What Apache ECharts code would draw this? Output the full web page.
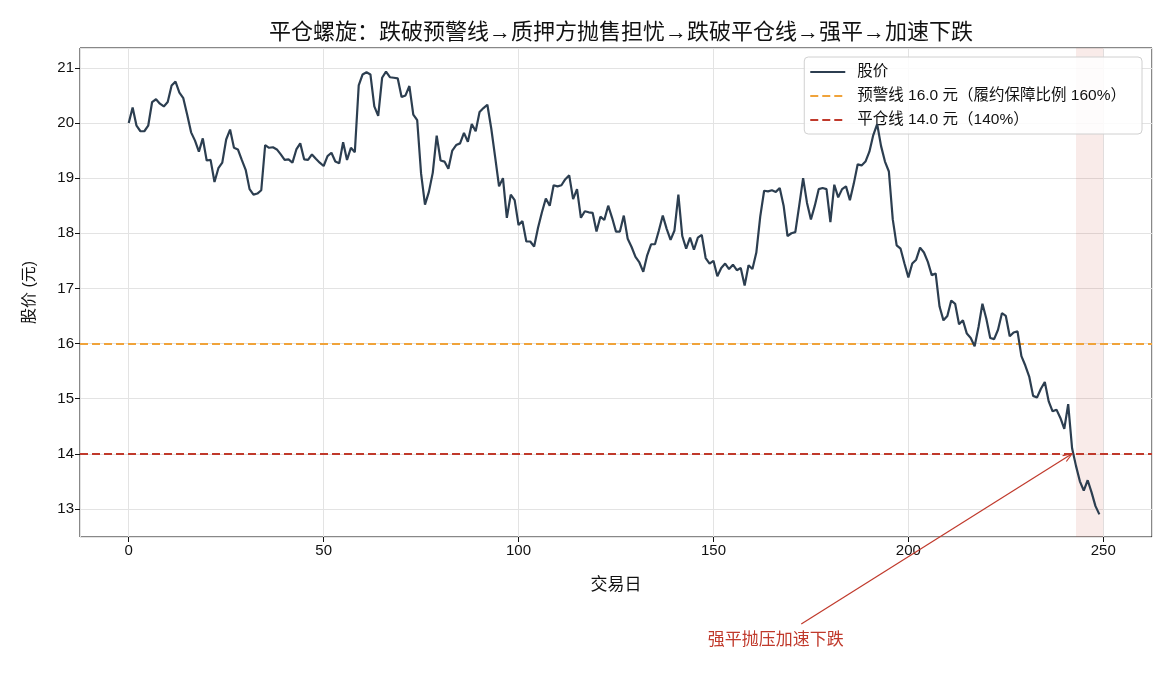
<!DOCTYPE html>
<html lang="zh-CN">
<head>
<meta charset="UTF-8">
<title>平仓螺旋</title>
<script src="https://cdn.jsdelivr.net/npm/echarts@6/dist/echarts.min.js"></script>
<style>
  html, body { margin: 0; padding: 0; background: #fff; }
  #chart { width: 1170px; height: 676px; }
</style>
</head>
<body>
<div id="chart"></div>
<script>
  // daily close, day index = position in array
  const PRICES = [
    20.0, 20.28, 19.95, 19.85, 19.85, 19.95, 20.38, 20.43, 20.35, 20.3,
    20.38, 20.68, 20.75, 20.55, 20.45, 20.15, 19.83, 19.68, 19.48, 19.72,
    19.32, 19.33, 18.93, 19.18, 19.28, 19.7, 19.88, 19.55, 19.52, 19.33,
    19.15, 18.8, 18.7, 18.72, 18.78, 19.6, 19.55, 19.56, 19.52, 19.43,
    19.33, 19.34, 19.28, 19.52, 19.63, 19.34, 19.33, 19.43, 19.35, 19.28,
    19.22, 19.4, 19.46, 19.3, 19.27, 19.65, 19.33, 19.55, 19.47, 20.68,
    20.88, 20.92, 20.88, 20.3, 20.13, 20.82, 20.93, 20.83, 20.82, 20.81,
    20.47, 20.5, 20.67, 20.15, 20.05, 19.08, 18.52, 18.75, 19.1, 19.77,
    19.32, 19.3, 19.17, 19.5, 19.6, 19.63, 19.82, 19.66, 19.98, 19.85,
    20.2, 20.27, 20.33, 19.9, 19.38, 18.85, 19.0, 18.28, 18.7, 18.6,
    18.15, 18.22, 17.85, 17.85, 17.76, 18.1, 18.38, 18.63, 18.5, 18.87,
    18.85, 18.87, 18.98, 19.05, 18.62, 18.8, 18.28, 18.4, 18.38, 18.37,
    18.03, 18.3, 18.24, 18.5, 18.28, 18.03, 18.03, 18.32, 17.9, 17.75,
    17.57, 17.47, 17.3, 17.6, 17.8, 17.8, 18.05, 18.32, 18.08, 17.88,
    18.05, 18.7, 17.95, 17.72, 17.92, 17.7, 17.92, 17.97, 17.55, 17.45,
    17.5, 17.22, 17.37, 17.45, 17.35, 17.43, 17.33, 17.37, 17.05, 17.42,
    17.35, 17.65, 18.3, 18.77, 18.76, 18.78, 18.75, 18.82, 18.5, 17.95,
    18.0, 18.02, 18.5, 19.0, 18.55, 18.25, 18.5, 18.8, 18.82, 18.8,
    18.2, 18.88, 18.65, 18.8, 18.85, 18.6, 18.9, 19.25, 19.23, 19.3,
    19.48, 19.78, 19.98, 19.58, 19.3, 19.12, 18.25, 17.78, 17.72, 17.45,
    17.2, 17.45, 17.52, 17.74, 17.65, 17.48, 17.24, 17.27, 16.67, 16.42,
    16.5, 16.78, 16.72, 16.35, 16.42, 16.18, 16.1, 15.95, 16.3, 16.72,
    16.45, 16.1, 16.08, 16.25, 16.55, 16.5, 16.13, 16.2, 16.22, 15.77,
    15.6, 15.4, 15.05, 15.02, 15.18, 15.3, 14.95, 14.77, 14.8, 14.65,
    14.45, 14.9, 14.1, 13.78, 13.5, 13.33, 13.52, 13.3, 13.05, 12.9
  ];

  const WARN_PRICE = 16.0;
  const LIQ_PRICE = 14.0;
  const FORCED_SPAN = [243, 250];   // shaded forced-liquidation window

  const ANNOT_TEXT = '强平抛压加速下跌';
  const ANNOT_TIP = [242, 14.0];
  const ANNOT_TEXT_AT = [166, 10.62];

  const PRICE_NAME = '股价';
  const WARN_NAME = '预警线 16.0 元（履约保障比例 160%）';
  const LIQ_NAME = '平仓线 14.0 元（140%）';

  const FONT = '"Liberation Sans", "Noto Sans CJK SC", sans-serif';
  const LINE_COLOR = '#2c3e50';
  const WARN_COLOR = '#f0a33a';
  const LIQ_COLOR = '#c0392b';

  const chart = echarts.init(document.getElementById('chart'));

  const axisCommon = {
    type: 'value',
    axisLine: { show: false, onZero: false },
    axisTick: { show: true, length: 5, lineStyle: { color: '#111' } },
    axisLabel: { color: '#111', fontSize: 15, margin: 6, fontFamily: FONT, showMinLabel: false, showMaxLabel: false },
    splitLine: { show: true, lineStyle: { color: '#e3e3e3', width: 1 } },
    nameTextStyle: { color: '#111', fontSize: 16, fontFamily: FONT }
  };

  const option = {
    backgroundColor: '#fff',
    animation: false,
    textStyle: { fontFamily: FONT },
    title: {
      text: '平仓螺旋：跌破预警线→质押方抛售担忧→跌破平仓线→强平→加速下跌',
      left: 616,
      textAlign: 'center',
      top: 17,
      textStyle: { fontSize: 22, fontWeight: 'normal', color: '#111', fontFamily: FONT }
    },
    grid: {
      left: 80, right: 18, top: 48, bottom: 139,
      show: true, borderColor: '#111', borderWidth: 1, backgroundColor: 'transparent'
    },
    legend: {
      orient: 'vertical',
      right: 28,
      top: 57,
      itemWidth: 35,
      itemHeight: 16,
      itemGap: 8,
      padding: [7, 16, 6, 5],
      backgroundColor: 'rgba(255,255,255,0.85)',
      borderColor: '#d0d0d0',
      borderWidth: 1,
      borderRadius: 4,
      itemStyle: { opacity: 0 },
      textStyle: { fontSize: 15.5, lineHeight: 16, color: '#111', fontFamily: FONT, padding: [0, 0, 0, 7] },
      data: [PRICE_NAME, WARN_NAME, LIQ_NAME]
    },
    xAxis: Object.assign({}, axisCommon, {
      min: -12.5, max: 262.5,
      minInterval: 50, maxInterval: 50,
      name: '交易日', nameLocation: 'middle', nameGap: 40,
      nameTextStyle: { color: '#111', fontSize: 17, fontFamily: FONT }
    }),
    yAxis: Object.assign({}, axisCommon, {
      min: 12.49, max: 21.36,
      minInterval: 1, maxInterval: 1,
      name: '股价 (元)', nameLocation: 'middle', nameGap: 42, nameRotate: 90
    }),
    series: [
      {
        name: PRICE_NAME,
        type: 'line',
        data: PRICES.map((v, i) => [i, v]),
        symbol: 'none',
        lineStyle: { color: LINE_COLOR, width: 2.2 },
        itemStyle: { color: LINE_COLOR },
        z: 5,
        markArea: {
          silent: true,
          itemStyle: { color: 'rgba(192,57,43,0.10)' },
          data: [[{ xAxis: FORCED_SPAN[0] }, { xAxis: FORCED_SPAN[1] }]]
        }
      },
      {
        name: WARN_NAME,
        type: 'line',
        data: [],
        symbol: 'none',
        lineStyle: { color: WARN_COLOR, width: 1.8, type: [8, 4] },
        itemStyle: { color: WARN_COLOR },
        markLine: {
          silent: true, symbol: 'none', label: { show: false },
          lineStyle: { color: WARN_COLOR, width: 1.8, type: [8, 4] },
          data: [{ yAxis: WARN_PRICE }]
        }
      },
      {
        name: LIQ_NAME,
        type: 'line',
        data: [],
        symbol: 'none',
        lineStyle: { color: LIQ_COLOR, width: 1.8, type: [8, 4] },
        itemStyle: { color: LIQ_COLOR },
        markLine: {
          silent: true, symbol: 'none', label: { show: false },
          lineStyle: { color: LIQ_COLOR, width: 1.8, type: [8, 4] },
          data: [{ yAxis: LIQ_PRICE }]
        }
      }
    ]
  };

  chart.setOption(option);

  // annotation with arrow, positioned from data coords
  function drawAnnotation() {
    const tip = chart.convertToPixel({ gridIndex: 0 }, ANNOT_TIP);
    const txt = chart.convertToPixel({ gridIndex: 0 }, ANNOT_TEXT_AT);
    const dx = tip[0] - txt[0], dy = tip[1] - txt[1];
    const len = Math.sqrt(dx * dx + dy * dy);
    const ux = dx / len, uy = dy / len;
    // leave the text box (half height + pad)
    const t = Math.min(90 / Math.abs(ux), 16 / Math.abs(uy));
    const start = [txt[0] + ux * t, txt[1] + uy * t];
    const head = 9, wing = 3.5;
    const bx = tip[0] - ux * head, by = tip[1] - uy * head;
    const left = [bx - uy * wing, by + ux * wing];
    const right = [bx + uy * wing, by - ux * wing];

    chart.setOption({
      graphic: [
        {
          type: 'line', silent: true, z: 100,
          shape: { x1: start[0], y1: start[1], x2: tip[0], y2: tip[1] },
          style: { stroke: LIQ_COLOR, lineWidth: 1.2 }
        },
        {
          type: 'polyline', silent: true, z: 100,
          shape: { points: [left, tip, right] },
          style: { stroke: LIQ_COLOR, lineWidth: 1.2, fill: null }
        },
        {
          type: 'text', silent: true, z: 100,
          x: txt[0], y: txt[1],
          style: {
            text: ANNOT_TEXT, fill: LIQ_COLOR, fontSize: 17, fontFamily: FONT,
            align: 'center', verticalAlign: 'middle'
          }
        }
      ]
    });
  }
  drawAnnotation();

  window.addEventListener('resize', function () {
    chart.resize();
    drawAnnotation();
  });
</script>
</body>
</html>
